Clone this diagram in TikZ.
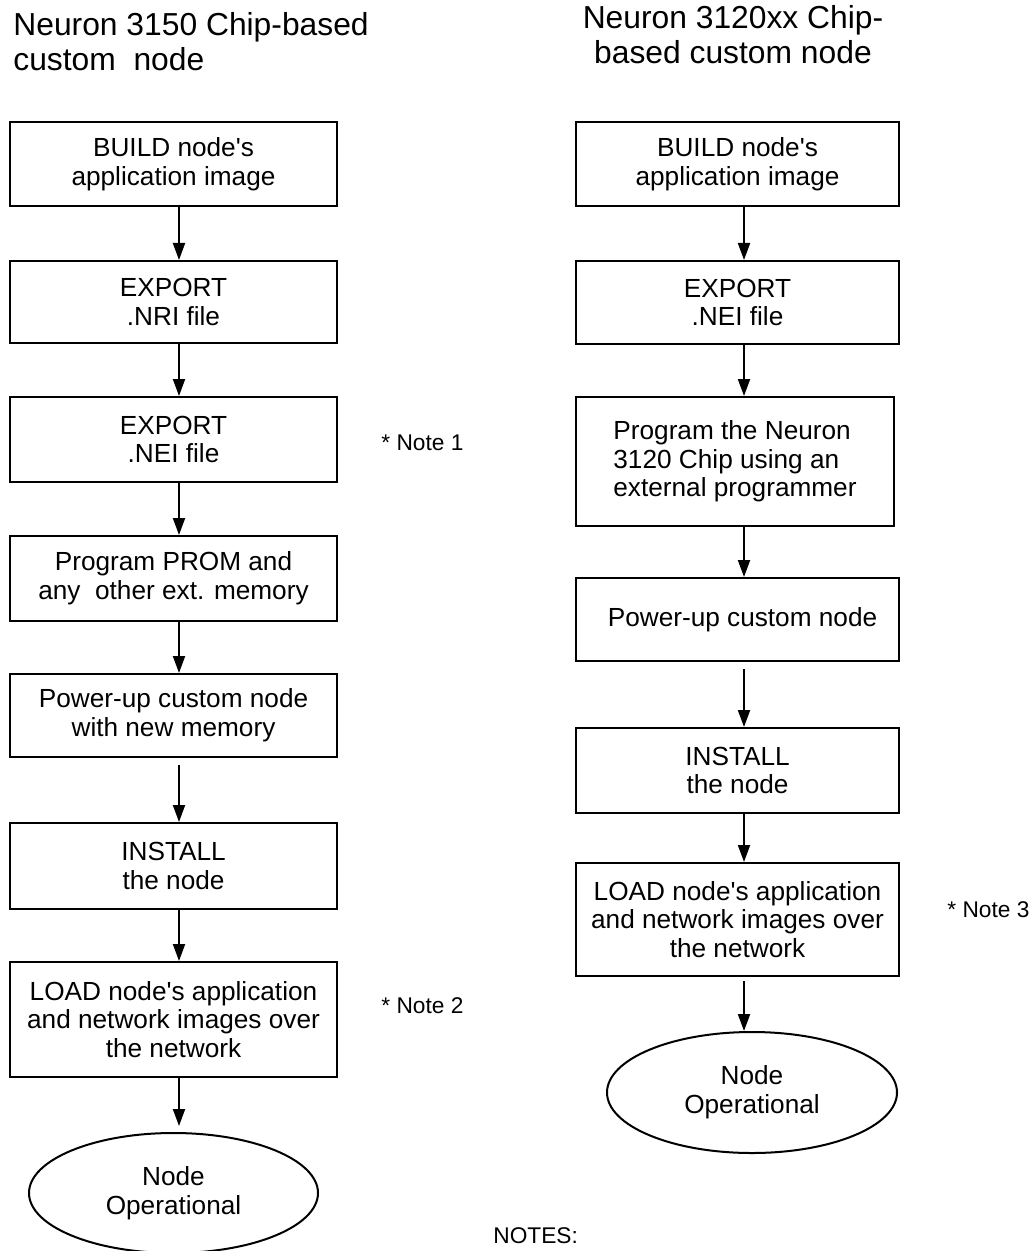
\documentclass[tikz,border=0pt]{standalone}
\usepackage{fontspec}
\setmainfont{Liberation Sans}
\usepackage{tikz}
\usetikzlibrary{arrows.meta, shapes.geometric}
\newcommand{\apos}{\textquotesingle}

\begin{document}
\begin{tikzpicture}[x=0.5pt, y=-0.5pt,
    stepbox/.style={draw, line width=1pt, rectangle, align=center, inner sep=0pt,
      font=\fontsize{13.1pt}{14.35pt}\selectfont},
    endnode/.style={draw, line width=1pt, ellipse, align=center, inner sep=0pt,
      font=\fontsize{13.1pt}{14.35pt}\selectfont},
    flow/.style={-{Triangle[length=8.5pt, width=6pt]}, line width=1pt},
    heading/.style={inner sep=0pt, font=\fontsize{15.9pt}{17.5pt}\selectfont},
    notetext/.style={inner sep=0pt, anchor=base west, font=\fontsize{11.35pt}{13pt}\selectfont}]
  \useasboundingbox (0,0) rectangle (1034,1251);

  % --- Neuron 3150 flow ---
  \begin{scope}
    \node[heading, anchor=north west, align=left] (ltitle) at (13,12)
      {Neuron 3150 Chip-based\\custom\ \ node};
    \coordinate (lx) at (179,0);
    \node[stepbox, minimum width=163.5pt, minimum height=42pt] (l1) at (173.5,164)
      {BUILD node\apos s\\application image};
    \node[stepbox, minimum width=163.5pt, minimum height=41pt] (l2) at (173.5,302)
      {EXPORT\\.NRI file};
    \node[stepbox, minimum width=163.5pt, minimum height=42.5pt] (l3) at (173.5,439.5)
      {EXPORT\\.NEI file};
    \node[stepbox, minimum width=163.5pt, minimum height=42.5pt] (l4) at (173.5,578.5)
      {Program PROM and\\any\ \ other ext. memory};
    \node[stepbox, minimum width=163.5pt, minimum height=41.5pt] (l5) at (173.5,715.5)
      {Power-up custom node\\with new memory};
    \node[stepbox, minimum width=163.5pt, minimum height=43pt] (l6) at (173.5,866)
      {INSTALL\\the node};
    \node[stepbox, minimum width=163.5pt, minimum height=57.5pt] (l7) at (173.5,1019.5)
      {LOAD node\apos s application\\and network images over\\the network};
    \node[endnode, minimum width=144.5pt, minimum height=60pt] (lend) at (173.5,1193)
      {Node\\Operational};
    \node[notetext] (note1) at (381,450) {* Note 1};
    \node[notetext] (note2) at (381,1013) {* Note 2};
    % arrows
    \foreach \a/\b in {l1/l2, l2/l3, l3/l4, l4/l5, l6/l7}
      \draw[flow] (\a.south -| lx) -- (\b.north -| lx);
    \draw[flow, shorten <=3.5pt] (l5.south -| lx) -- (l6.north -| lx);
    \draw[flow, shorten >=3pt] (l7.south -| lx) -- (lend.north -| lx);
  \end{scope}

  % --- Neuron 3120xx flow ---
  \begin{scope}
    \node[heading, anchor=north, align=center] (rtitle) at (733,5)
      {Neuron 3120xx Chip-\\based custom node};
    \coordinate (rx) at (744,0);
    \node[stepbox, minimum width=161.5pt, minimum height=42pt] (r1) at (737.5,164)
      {BUILD node\apos s\\application image};
    \node[stepbox, minimum width=161.5pt, minimum height=41.5pt] (r2) at (737.5,302.5)
      {EXPORT\\.NEI file};
    \node[stepbox, align=left, minimum width=159pt, minimum height=64.5pt] (r3) at (735,461.5)
      {Program the Neuron\\3120 Chip using an\\external programmer};
    \node[stepbox, minimum width=161.5pt, minimum height=41.5pt] (r4) at (737.5,619.5)
      {\hspace{5pt}Power-up custom node};
    \node[stepbox, minimum width=161.5pt, minimum height=42.5pt] (r5) at (737.5,770.5)
      {INSTALL\\the node};
    \node[stepbox, minimum width=161.5pt, minimum height=56.5pt] (r6) at (737.5,919.5)
      {LOAD node\apos s application\\and network images over\\the network};
    \node[endnode, minimum width=145pt, minimum height=60.5pt] (rend) at (752,1092.5)
      {Node\\Operational};
    \node[notetext] (note3) at (947,917) {* Note 3};
    % arrows
    \foreach \a/\b in {r1/r2, r2/r3, r3/r4, r5/r6}
      \draw[flow] (\a.south -| rx) -- (\b.north -| rx);
    \draw[flow, shorten <=3.5pt] (r4.south -| rx) -- (r5.north -| rx);
    \draw[flow, shorten <=2pt] (r6.south -| rx) -- (rend.north -| rx);
  \end{scope}

  \node[notetext] (notes) at (493,1243) {NOTES:};
\end{tikzpicture}
\end{document}
